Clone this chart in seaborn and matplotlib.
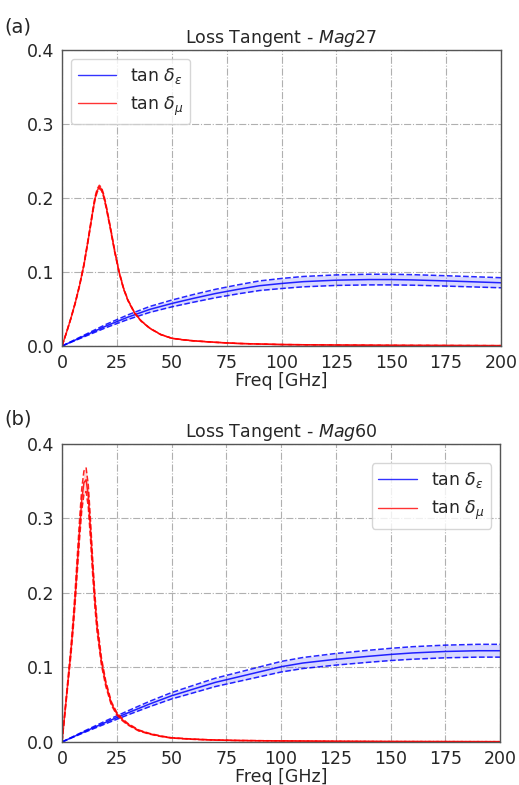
import numpy as np
import pandas as pd
import seaborn as sns
import matplotlib
matplotlib.use("Agg")
import matplotlib.pyplot as plt

# ---------------- data ----------------
# Panel (a) Mag27
freq_eps_a = [0, 10, 20, 30, 40, 50, 60, 70, 80, 90, 100, 110, 125, 140, 150, 160, 175, 190, 200]
eps_a = [0, .0135, .027, .039, .0495, .0575, .0645, .071, .0765, .0815, .0845, .087, .089, .0898, .0898, .0893, .088, .0865, .0855]
eps_a_hi = [0, .0146, .0292, .0421, .0535, .0621, .0697, .0767, .0826, .0880, .0913, .0940, .0961, .0970, .0970, .0964, .0950, .0934, .0923]
eps_a_lo = [0, .0124, .0248, .0359, .0455, .0529, .0593, .0653, .0704, .0750, .0777, .0800, .0819, .0826, .0826, .0822, .0810, .0796, .0787]

freq_mu_a = [0, 2, 4, 6, 8, 10, 12, 14, 15, 16, 17, 18, 19, 20, 22, 24, 26, 28, 30, 33, 36, 40, 45, 50, 55, 60, 70, 80, 90, 100, 125, 150, 175, 200]
mu_a = [0, .018, .037, .058, .082, .11, .145, .182, .199, .210, .215, .212, .203, .19, .16, .128, .10, .078, .062, .045, .034, .024, .0155, .0105, .0085, .007, .005, .0035, .0027, .002, .0013, .0009, .0007, .0005]
mu_a_hi = [0, .0182, .0374, .0586, .0828, .1111, .1465, .1838, .2010, .2121, .2172, .2141, .2050, .1919, .1616, .1293, .1010, .0788, .0626, .0455, .0343, .0242, .0157, .0106, .0086, .0071, .0051, .0035, .0027, .002, .0013, .0009, .0007, .0005]
mu_a_lo = [0, .0178, .0366, .0574, .0812, .1089, .1436, .1802, .1970, .2079, .2129, .2099, .2010, .1881, .1584, .1267, .0990, .0772, .0614, .0446, .0337, .0238, .0153, .0104, .0084, .0069, .0049, .0035, .0027, .002, .0013, .0009, .0007, .0005]

# Panel (b) Mag60
freq_eps_b = [0, 10, 20, 30, 40, 50, 60, 70, 80, 90, 100, 110, 125, 140, 150, 160, 175, 190, 200]
eps_b = [0, .0135, .0265, .039, .051, .062, .071, .080, .087, .094, .101, .106, .111, .115, .1175, .1195, .1215, .1225, .1225]
eps_b_hi = [0, .0144, .0284, .0417, .0546, .0663, .076, .0856, .0931, .1006, .1081, .1134, .1188, .1231, .1257, .1279, .13, .1311, .1311]
eps_b_lo = [0, .0126, .0246, .0363, .0474, .0577, .066, .0744, .0809, .0874, .0939, .0986, .1032, .107, .1093, .1111, .113, .1139, .1139]

freq_mu_b = [0, 1, 2, 3, 4, 5, 6, 7, 8, 9, 10, 11, 12, 13, 14, 15, 16, 18, 20, 22.5, 25, 27.5, 30, 35, 40, 45, 50, 60, 70, 80, 100, 125, 150, 175, 200]
mu_b = [0, .03, .06, .09, .12, .155, .195, .24, .285, .325, .348, .352, .33, .285, .235, .19, .155, .108, .078, .052, .038, .030, .024, .0155, .011, .0078, .0055, .0037, .0026, .002, .0014, .0009, .0006, .0005, .0004]
mu_b_hi = [0, .0314, .0627, .0941, .1254, .162, .2038, .2508, .2978, .3396, .3637, .3678, .3449, .2978, .2456, .1986, .162, .1129, .0815, .0543, .0397, .0314, .0251, .0162, .0115, .0082, .0057, .0039, .0027, .0021, .0015, .0009, .0006, .0005, .0004]
mu_b_lo = [0, .0287, .0573, .0860, .1146, .148, .1862, .2292, .2722, .3104, .3323, .3362, .3152, .2722, .2244, .1815, .148, .1031, .0745, .0497, .0363, .0287, .0229, .0148, .0105, .0074, .0053, .0035, .0025, .0019, .0013, .0009, .0006, .0005, .0004]

x_ticks = [0, 25, 50, 75, 100, 125, 150, 175, 200]
y_ticks = [0.0, 0.1, 0.2, 0.3, 0.4]
titles = [r"Loss Tangent - $Mag27$", r"Loss Tangent - $Mag60$"]
panel_tags = ["(a)", "(b)"]
label_eps = r"tan $\delta_\varepsilon$"
label_mu = r"tan $\delta_\mu$"
xlabel = "Freq [GHz]"

# ---------------- plotting ----------------
sns.set_style("white")
plt.rcParams["font.family"] = ["DejaVu Sans"]
plt.rcParams["mathtext.fontset"] = "dejavusans"

fig = plt.figure(figsize=(5.19, 7.85), dpi=100)
ax_a = fig.add_axes([0.1195, 0.5592, 0.8458, 0.3771])
ax_b = fig.add_axes([0.1195, 0.0548, 0.8439, 0.3796])

panels = [
    (ax_a, freq_eps_a, eps_a, eps_a_lo, eps_a_hi, freq_mu_a, mu_a, mu_a_lo, mu_a_hi),
    (ax_b, freq_eps_b, eps_b, eps_b_lo, eps_b_hi, freq_mu_b, mu_b, mu_b_lo, mu_b_hi),
]

for i, (ax, fe, e, elo, ehi, fm, m, mlo, mhi) in enumerate(panels):
    for f, c, lo, hi, col, lab in [(fe, e, elo, ehi, "#0000ff", label_eps),
                                   (fm, m, mlo, mhi, "#ff0000", label_mu)]:
        df = pd.DataFrame({"f": f, "c": c, "lo": lo, "hi": hi})
        ax.fill_between(df["f"], df["lo"], df["hi"], color=col, alpha=0.15, lw=0)
        sns.lineplot(data=df, x="f", y="c", ax=ax, color=col, lw=1.1, alpha=0.85, label=lab)
        sns.lineplot(data=df, x="f", y="lo", ax=ax, color=col, lw=1.1, alpha=0.85, ls="--", legend=False)
        sns.lineplot(data=df, x="f", y="hi", ax=ax, color=col, lw=1.1, alpha=0.85, ls="--", legend=False)

    ax.set_xlim(0, 200)
    ax.set_ylim(0, 0.4)
    ax.set_xticks(x_ticks)
    ax.set_yticks(y_ticks)
    ax.set_xticklabels([str(t) for t in x_ticks])
    ax.set_yticklabels([f"{t:.1f}" for t in y_ticks])
    ax.tick_params(labelsize=12.5, length=4, width=0.8, color="#444444", pad=1.5)
    ax.grid(True, ls="-.", color="#b0b0b0", lw=0.8)
    for s in ax.spines.values():
        s.set_color("#555555")
        s.set_linewidth(1.0)
    ax.set_title(titles[i], fontsize=12.5, pad=5)
    ax.set_xlabel(xlabel, fontsize=12.5, labelpad=0)
    ax.set_ylabel("")

    if i == 0:
        leg = ax.legend(loc="upper left", fontsize=12.5, handlelength=2.2, framealpha=0.8)
    else:
        leg = ax.legend(loc="upper right", bbox_to_anchor=(1.0, 0.965), fontsize=12.5,
                        handlelength=2.2, framealpha=0.8)
    for h in leg.get_lines():
        h.set_linewidth(1.0)
        h.set_alpha(0.8)

fig.text(0.008, 0.978, panel_tags[0], fontsize=14, va="top", ha="left")
fig.text(0.008, 0.478, panel_tags[1], fontsize=14, va="top", ha="left")

fig.savefig("out.png", dpi=100)
